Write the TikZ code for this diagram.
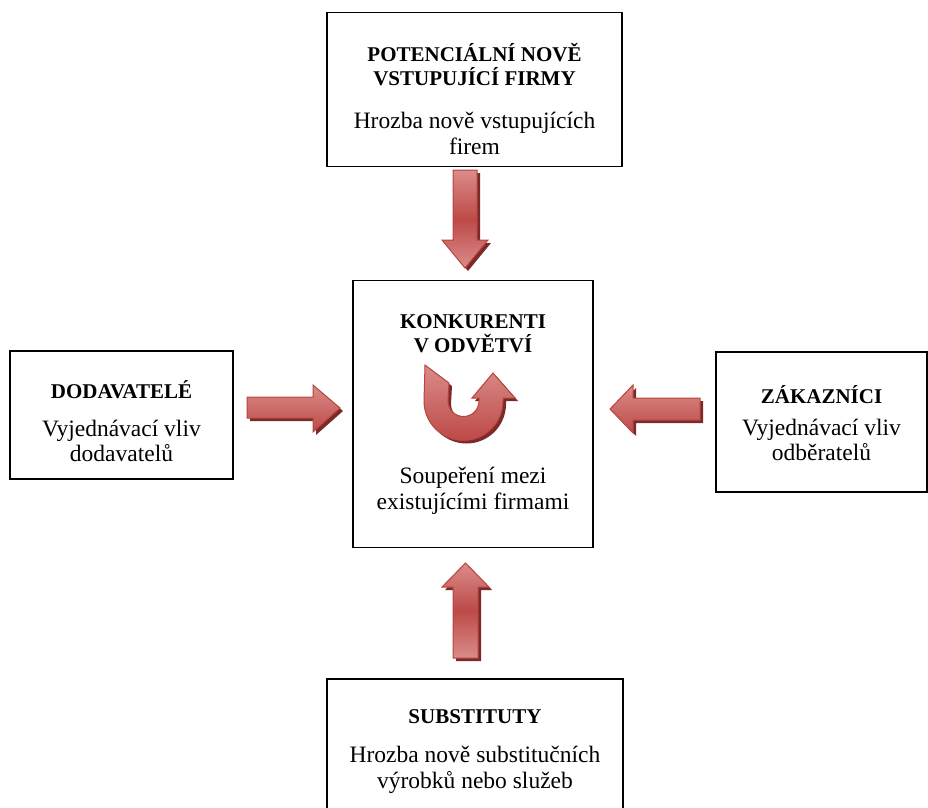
\documentclass[tikz,border=0pt]{standalone}
\usepackage{fontspec}
\setmainfont{Liberation Serif}
\definecolor{arrred}{HTML}{BD4A47}
\definecolor{arrlight}{HTML}{DA8C8A}
\definecolor{arredge}{HTML}{B8433F}
\definecolor{arrshadow}{HTML}{7A2A28}
\tikzset{
  box/.style={draw=black, line width=1.6pt, inner sep=0pt, fill=white},
  ttl/.style={font=\fontsize{21}{24}\selectfont\bfseries, align=center, inner sep=0pt},
  bdy/.style={font=\fontsize{23.5}{25.5}\selectfont, align=center, inner sep=0pt},
  vshade/.style={draw=arredge, line width=1pt, top color=arrlight, bottom color=arrlight, middle color=arrred},
  hshade/.style={draw=arredge, line width=1pt, top color=arrlight, bottom color=arrred},
  ashadow/.style={fill=arrshadow, draw=none, shift={(3,3)}}
}
\begin{document}
\begin{tikzpicture}[x=1pt,y=-1pt]
\useasboundingbox (0,0) rectangle (928,807);
% boxes
\node[box, minimum width=295, minimum height=154] (top) at (474.5,89.5) {};
\node[box, minimum width=240, minimum height=267] (mid) at (473,414) {};
\node[box, minimum width=223, minimum height=128] (left) at (121.5,415) {};
\node[box, minimum width=211, minimum height=140] (right) at (821.5,422) {};
\node[box, minimum width=296, minimum height=160] (bot) at (475,759) {};
% texts
\node[ttl] (topT) at (474.5,65) {POTENCIÁLNÍ NOVĚ\\VSTUPUJÍCÍ FIRMY};
\node[bdy] (topB) at (474.5,133.5) {Hrozba nově vstupujících\\firem};
\node[ttl] (midT) at (473,334) {KONKURENTI\\V ODVĚTVÍ};
\node[bdy] (midB) at (473,491) {Soupeření mezi\\existujícími firmami};
\node[ttl] (leftT) at (121.5,390) {DODAVATELÉ};
\node[bdy] (leftB) at (121.5,441) {Vyjednávací vliv\\dodavatelů};
\node[ttl] (rightT) at (821.5,395) {ZÁKAZNÍCI};
\node[bdy] (rightB) at (821.5,440) {Vyjednávací vliv\\odběratelů};
\node[ttl] (botT) at (475,717) {SUBSTITUTY};
\node[bdy] (botB) at (475,770) {Hrozba nově substitučních\\výrobků nebo služeb};
% down arrow (top -> mid)
\def\downarrowp{(453,170) -- (477,170) -- (477,240) -- (488,240) -- (465,268) -- (442,240) -- (453,240) -- cycle}
\fill[ashadow] \downarrowp;
\path[vshade] \downarrowp;
% up arrow (bot -> mid)
\def\uparrowp{(453,658) -- (478,658) -- (478,587) -- (489,587) -- (465.5,563) -- (442,587) -- (453,587) -- cycle}
\fill[ashadow] \uparrowp;
\path[vshade] \uparrowp;
% right arrow (left -> mid)
\def\rarrowp{(247,397) -- (313,397) -- (313,385) -- (340,408) -- (313,432) -- (313,418) -- (247,418) -- cycle}
\fill[ashadow] \rarrowp;
\path[hshade] \rarrowp;
% left arrow (right -> mid)
\def\larrowp{(700,398) -- (633,398) -- (633,385) -- (610,409) -- (633,433) -- (633,420) -- (700,420) -- cycle}
\fill[ashadow] \larrowp;
\path[hshade] \larrowp;
% circular arrow
\def\circarrowp{(425,365) -- (424,401) arc[start angle=180, end angle=0, radius=39.5] -- (503,398) -- (515,398) -- (493,373) -- (472,398) -- (479,398) -- (479,401) arc[start angle=0, end angle=180, radius=15.5] -- (449,383) -- cycle}
\fill[ashadow] \circarrowp;
\path[draw=arredge, line width=1pt, top color=arrlight, bottom color=arrred] \circarrowp;
\end{tikzpicture}
\end{document}
